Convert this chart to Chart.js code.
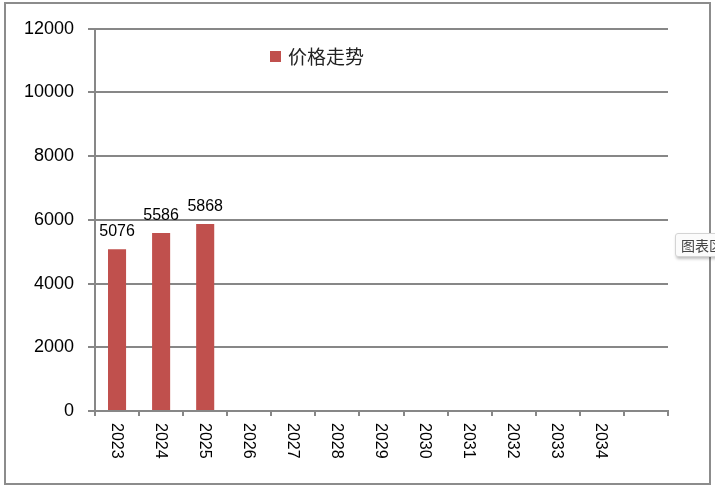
<!DOCTYPE html>
<html lang="zh-CN">
<head>
<meta charset="UTF-8">
<title>价格走势</title>
<script src="https://cdn.jsdelivr.net/npm/chart.js@4.4.1/dist/chart.umd.min.js"></script>
<style>
    html, body { margin: 0; padding: 0; background: #ffffff; overflow: hidden; }
    body { width: 715px; height: 486px; position: relative; }
    .frame {
        position: absolute;
        left: 4px; top: 2px;
        width: 703px; height: 479px;
        border: 2px solid #8c8c8c;
        background: #fff;
    }
    .frame canvas { display: block; }
    .tip {
        position: absolute;
        left: 675px; top: 233px;
        width: 60px; height: 22px;
        border: 1px solid #d4d4d4;
        border-radius: 3px;
        background: #fbfbfb;
        box-shadow: 1px 2px 3px rgba(0,0,0,0.25);
        font-family: 'Noto Sans CJK SC', sans-serif;
        font-size: 14px;
        line-height: 22px;
        color: #444;
        padding-left: 5px;
        white-space: nowrap;
    }
</style>
</head>
<body>
<div class="frame"><canvas id="chart" width="703" height="479"></canvas></div>
<div class="tip">图表区</div>
<script>
    // data
    const years = ['2023', '2024', '2025', '2026', '2027', '2028', '2029', '2030', '2031', '2032', '2033', '2034', ''];
    const prices = [5076, 5586, 5868, null, null, null, null, null, null, null, null, null, null];
    const seriesName = '价格走势';
    const yMax = 12000;
    const yStep = 2000;

    const gray = '#878787';
    const barColor = '#c0504d';

    // value labels, rotated year labels and the legend inside the plot
    const extras = {
        id: 'extras',
        afterDatasetsDraw(chart) {
            const ctx = chart.ctx;
            const meta = chart.getDatasetMeta(0);
            ctx.save();
            ctx.fillStyle = '#000';
            ctx.font = '16px "Liberation Sans", Arial, sans-serif';
            ctx.textAlign = 'center';
            ctx.textBaseline = 'alphabetic';
            meta.data.forEach((bar, i) => {
                if (prices[i] == null) return;
                ctx.fillText(String(prices[i]), bar.x, bar.y - 13);
            });

            const xs = chart.scales.x;
            ctx.font = '16px "Liberation Sans", Arial, sans-serif';
            ctx.textAlign = 'left';
            ctx.textBaseline = 'middle';
            years.forEach((y, i) => {
                if (!y) return;
                const px = xs.getPixelForValue(i);
                ctx.save();
                ctx.translate(px - 1, xs.top + 12);
                ctx.rotate(Math.PI / 2);
                ctx.fillText(y, 0, 0);
                ctx.restore();
            });

            // legend
            const lx = 264, ly = 47;
            ctx.fillStyle = barColor;
            ctx.fillRect(lx, ly, 11, 11);
            ctx.fillStyle = '#222';
            ctx.font = '19px "Noto Sans CJK SC", sans-serif';
            ctx.textBaseline = 'middle';
            ctx.fillText(chart.data.datasets[0].label, lx + 18, ly + 6);
            ctx.restore();
        }
    };

    new Chart(document.getElementById('chart'), {
        type: 'bar',
        data: {
            labels: years,
            datasets: [{
                label: seriesName,
                data: prices,
                backgroundColor: barColor,
                barPercentage: 0.41,
                categoryPercentage: 1.0
            }]
        },
        options: {
            responsive: false,
            animation: false,
            layout: { padding: { top: 24, right: 41, bottom: 0, left: 0 } },
            plugins: {
                legend: { display: false },
                tooltip: { enabled: false }
            },
            scales: {
                x: {
                    offset: true,
                    ticks: { display: false },
                    grid: {
                        offset: true,
                        drawOnChartArea: false,
                        drawTicks: true,
                        tickLength: 5,
                        color: gray,
                        lineWidth: 2
                    },
                    border: { color: gray, width: 2 },
                    afterFit(scale) { scale.height = 72; }
                },
                y: {
                    min: 0,
                    max: yMax,
                    ticks: {
                        stepSize: yStep,
                        color: '#000',
                        padding: 14,
                        font: { family: '"Liberation Sans", Arial, sans-serif', size: 18 },
                        callback: v => String(v)
                    },
                    grid: { color: gray, lineWidth: 2, tickLength: 7 },
                    border: { color: gray, width: 2 },
                    afterFit(scale) { scale.width = 89; }
                }
            }
        },
        plugins: [extras]
    });
</script>
</body>
</html>
